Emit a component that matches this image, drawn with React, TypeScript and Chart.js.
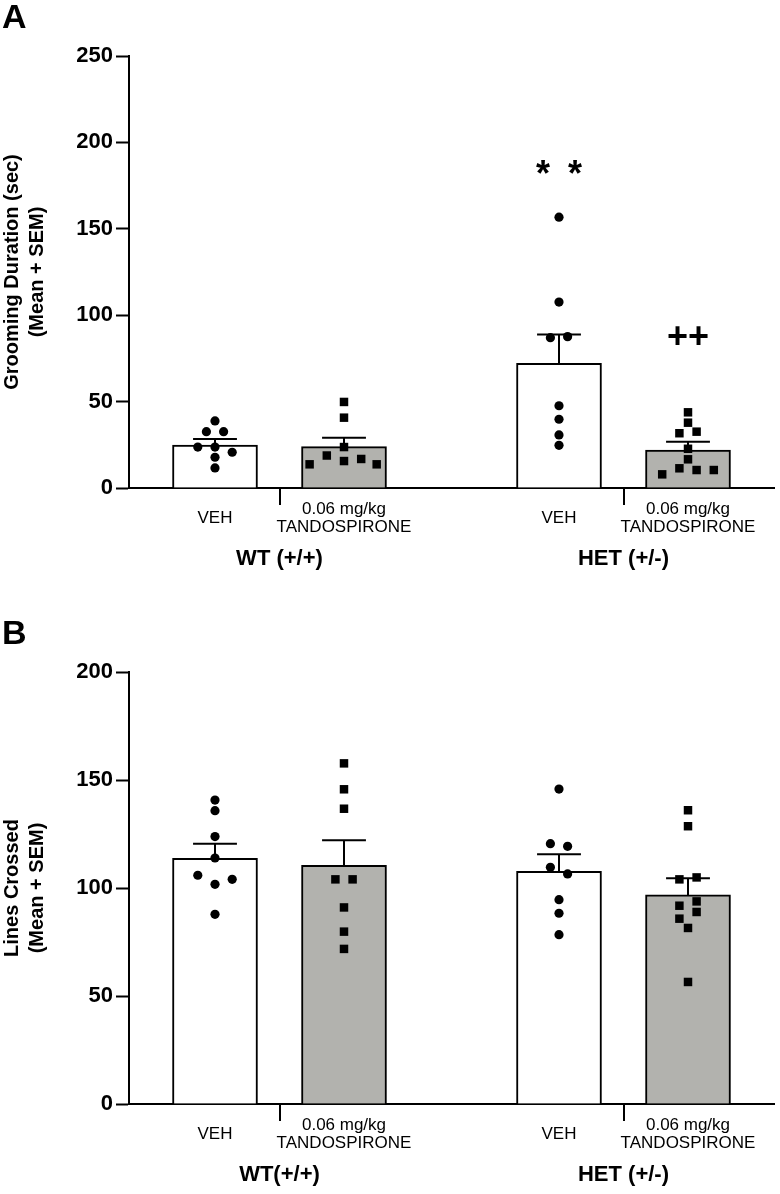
import React, { useEffect, useRef } from 'react';
import { Chart, registerables } from 'chart.js';

Chart.register(...registerables);

const FONT = '"Liberation Sans", Arial, Helvetica, sans-serif';

// ---------- shared categories / layout ----------
const xPositions = [2, 5, 10, 13];
const separatorPositions = [3.5, 11.5];
const tickLabels: (string | string[])[] = ['VEH', ['0.06 mg/kg', 'TANDOSPIRONE'], 'VEH', ['0.06 mg/kg', 'TANDOSPIRONE']];
const groupLabelsA = ['WT (+/+)', 'HET (+/-)'];
const groupLabelsB = ['WT(+/+)', 'HET (+/-)'];
const barColors = ['#ffffff', '#b2b2ae', '#ffffff', '#b2b2ae'];
const pointStyles = ['circle', 'rect', 'circle', 'rect'];
const pointRadii = [4.6, 6, 4.6, 6];

// ---------- Panel A: grooming duration ----------
const groomTicksMax = 250;
const groomMean = [24.9, 23.9, 72.2, 22.0];
const groomSem = [3.5, 5.2, 16.7, 4.8];
const groomWtVeh = [38.8, 32.6, 32.6, 23.7, 23.7, 20.7, 17.8, 11.6];
const groomWtTan = [49.8, 40.7, 23.7, 18.8, 13.7, 15.6, 16.8, 13.7];
const groomHetVeh = [156.7, 107.6, 87.0, 87.6, 47.6, 39.8, 30.7, 24.7];
const groomHetTan = [43.8, 37.8, 31.7, 32.6, 22.7, 16.6, 11.4, 10.4, 7.9, 10.4];
const groomJitWtVeh = [0, -0.2, 0.2, -0.4, 0, 0.4, 0, 0];
const groomJitWtTan = [0, 0, 0, -0.4, -0.8, 0, 0.4, 0.76];
const groomJitHetVeh = [0, 0, -0.2, 0.2, 0, 0, 0, 0];
const groomJitHetTan = [0, 0, -0.2, 0.2, 0, 0, -0.2, 0.2, -0.6, 0.6];
const groomAnnotations = [
  { text: '*', x: 9.63, y: 185.5 },
  { text: '*', x: 10.37, y: 185.5 },
  { text: '++', x: 13, y: 88.5 },
];

// ---------- Panel B: lines crossed ----------
const linesTicksMax = 200;
const linesMean = [113.7, 110.5, 107.7, 96.8];
const linesSem = [6.8, 11.6, 7.9, 7.7];
const linesWtVeh = [140.7, 135.8, 123.8, 113.9, 105.9, 104.0, 101.7, 87.8];
const linesWtTan = [157.7, 145.7, 136.7, 104.0, 104.0, 91.0, 79.8, 71.8];
const linesHetVeh = [145.8, 120.5, 119.3, 109.6, 106.5, 94.6, 88.3, 78.4];
const linesHetTan = [136.0, 128.6, 104.0, 104.9, 93.8, 91.8, 88.9, 85.8, 81.5, 56.5];
const linesJitWtVeh = [0, 0, 0, 0, -0.4, 0.4, 0, 0];
const linesJitWtTan = [0, 0, 0, -0.2, 0.2, 0, 0, 0];
const linesJitHetVeh = [0, -0.2, 0.2, -0.2, 0.2, 0, 0, 0];
const linesJitHetTan = [0, 0, -0.2, 0.2, 0.2, -0.2, 0.2, -0.2, 0, 0];

const CAP_HALF = 0.51;

type PanelSpec = {
  letter: string;
  yTitle: string[];
  yMax: number;
  means: number[];
  sems: number[];
  points: number[][];
  jitters: number[][];
  groups: string[];
  annotations: { text: string; x: number; y: number }[];
  xAxisHeight: number;
};

function extrasPlugin(spec: PanelSpec) {
  return {
    id: 'panelExtras' + spec.letter,
    afterDraw(chart: any) {
      const { ctx } = chart;
      const xs = chart.scales.x;
      const ys = chart.scales.y;
      const axisY = ys.getPixelForValue(0);
      ctx.save();
      ctx.strokeStyle = '#000';
      ctx.lineWidth = 2;
      separatorPositions.forEach((v) => {
        const px = Math.round(xs.getPixelForValue(v));
        ctx.beginPath();
        ctx.moveTo(px, axisY);
        ctx.lineTo(px, axisY + 17);
        ctx.stroke();
      });
      ctx.fillStyle = '#000';
      ctx.font = `bold 22px ${FONT}`;
      ctx.textAlign = 'center';
      ctx.textBaseline = 'middle';
      spec.groups.forEach((g, i) => {
        ctx.fillText(g, xs.getPixelForValue(separatorPositions[i]), axisY + 71);
      });
      ctx.font = `bold 34px ${FONT}`;
      ctx.textAlign = 'left';
      ctx.textBaseline = 'middle';
      ctx.fillText(spec.letter, 2, 19);
      spec.annotations.forEach((a) => {
        ctx.font = `bold 36px ${FONT}`;
        ctx.textAlign = 'center';
        ctx.textBaseline = 'alphabetic';
        const m = ctx.measureText(a.text);
        const px = xs.getPixelForValue(a.x);
        const py = ys.getPixelForValue(a.y);
        ctx.fillText(a.text, px, py + (m.actualBoundingBoxAscent - m.actualBoundingBoxDescent) / 2);
      });
      ctx.restore();
    },
  };
}

function buildConfig(spec: PanelSpec): any {
  const datasets: any[] = [];
  datasets.push({
    type: 'bar',
    data: xPositions.map((x, i) => ({ x, y: spec.means[i] })),
    backgroundColor: barColors,
    borderColor: '#000',
    borderWidth: 2,
    borderSkipped: 'bottom',
    barThickness: 85,
    order: 3,
  });
  xPositions.forEach((x, i) => {
    const top = spec.means[i] + spec.sems[i];
    datasets.push({
      type: 'line',
      data: [{ x, y: spec.means[i] }, { x, y: top }],
      borderColor: '#000',
      borderWidth: 2,
      pointRadius: 0,
      fill: false,
      order: 2,
    });
    datasets.push({
      type: 'line',
      data: [{ x: x - CAP_HALF, y: top }, { x: x + CAP_HALF, y: top }],
      borderColor: '#000',
      borderWidth: 2,
      pointRadius: 0,
      fill: false,
      order: 2,
    });
  });
  spec.points.forEach((vals, i) => {
    datasets.push({
      type: 'scatter',
      data: vals.map((v, j) => ({ x: xPositions[i] + spec.jitters[i][j], y: v })),
      pointStyle: pointStyles[i],
      pointRadius: pointRadii[i],
      pointBackgroundColor: '#000',
      pointBorderWidth: 0,
      borderColor: '#000',
      showLine: false,
      order: 1,
    });
  });

  return {
    type: 'bar',
    data: { datasets },
    options: {
      animation: false,
      responsive: false,
      maintainAspectRatio: false,
      devicePixelRatio: 1,
      events: [],
      layout: { padding: { left: 0, right: 3, top: 56, bottom: 0 } },
      plugins: { legend: { display: false }, tooltip: { enabled: false } },
      scales: {
        x: {
          type: 'linear',
          min: 0,
          max: 15,
          offset: false,
          afterBuildTicks: (scale: any) => {
            scale.ticks = xPositions.map((v) => ({ value: v }));
          },
          afterFit: (scale: any) => {
            scale.height = spec.xAxisHeight;
          },
          ticks: {
            autoSkip: false,
            maxRotation: 0,
            minRotation: 0,
            crossAlign: 'center',
            padding: 21,
            color: '#000',
            font: { family: FONT, size: 17, lineHeight: 1.06 },
            callback: (_v: any, i: number) => tickLabels[i],
          },
          grid: { display: false, offset: false, drawTicks: false },
          border: { display: true, color: '#000', width: 2 },
        },
        y: {
          type: 'linear',
          min: 0,
          max: spec.yMax,
          afterFit: (scale: any) => {
            scale.width = 129;
          },
          ticks: {
            stepSize: 50,
            padding: 3,
            color: '#000',
            font: { family: FONT, size: 22, weight: 'bold' },
          },
          grid: {
            display: true,
            drawOnChartArea: false,
            drawTicks: true,
            tickLength: 13,
            tickWidth: 2,
            tickColor: '#000',
          },
          border: { display: true, color: '#000', width: 2 },
          title: {
            display: true,
            text: spec.yTitle,
            color: '#000',
            padding: { top: 0, bottom: 0 },
            font: { family: FONT, size: 20, weight: 'bold', lineHeight: 1.25 },
          },
        },
      },
    },
    plugins: [extrasPlugin(spec)],
  };
}

const specA: PanelSpec = {
  letter: 'A',
  yTitle: ['Grooming Duration (sec)', '(Mean + SEM)'],
  yMax: groomTicksMax,
  means: groomMean,
  sems: groomSem,
  points: [groomWtVeh, groomWtTan, groomHetVeh, groomHetTan],
  jitters: [groomJitWtVeh, groomJitWtTan, groomJitHetVeh, groomJitHetTan],
  groups: groupLabelsA,
  annotations: groomAnnotations,
  xAxisHeight: 128,
};

const specB: PanelSpec = {
  letter: 'B',
  yTitle: ['Lines Crossed', '(Mean + SEM)'],
  yMax: linesTicksMax,
  means: linesMean,
  sems: linesSem,
  points: [linesWtVeh, linesWtTan, linesHetVeh, linesHetTan],
  jitters: [linesJitWtVeh, linesJitWtTan, linesJitHetVeh, linesJitHetTan],
  groups: groupLabelsB,
  annotations: [],
  xAxisHeight: 90,
};

function Panel({ spec, height }: { spec: PanelSpec; height: number }) {
  const ref = useRef<HTMLCanvasElement | null>(null);
  useEffect(() => {
    if (!ref.current) return;
    const chart = new Chart(ref.current, buildConfig(spec));
    return () => chart.destroy();
  }, [spec]);
  return (
    <canvas
      ref={ref}
      width={780}
      height={height}
      style={{ display: 'block', width: 780, height }}
    />
  );
}

export default function App() {
  useEffect(() => {
    document.body.style.margin = '0';
    document.body.style.background = '#ffffff';
  }, []);
  return (
    <div style={{ width: 780, height: 1194, background: '#fff', overflow: 'hidden' }}>
      <Panel spec={specA} height={616} />
      <Panel spec={specB} height={578} />
    </div>
  );
}
